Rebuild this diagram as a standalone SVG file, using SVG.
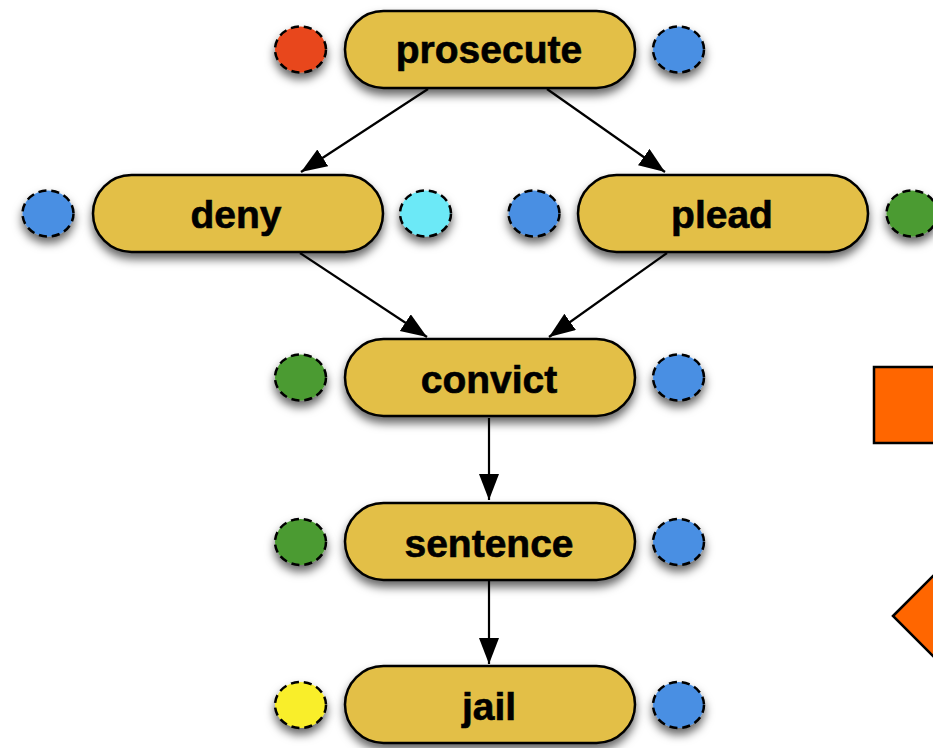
<svg xmlns="http://www.w3.org/2000/svg" width="933" height="748" viewBox="0 0 933 748">
  <defs>
    <filter id="shadow" x="-25%" y="-35%" width="150%" height="190%">
      <feDropShadow dx="0" dy="6" stdDeviation="5" flood-color="#000" flood-opacity="0.6"/>
    </filter>
    <marker id="arrow" markerUnits="userSpaceOnUse" markerWidth="28" markerHeight="22" refX="26" refY="10" orient="auto">
      <path d="M0,0 L26,10 L0,20 Z" fill="#000"/>
    </marker>
    <style>
      .pill { fill: #E3BF47; stroke: #000; stroke-width: 2.5; filter: url(#shadow); }
      .label { font-family: "Liberation Sans", Arial, sans-serif; font-weight: bold; font-size: 39px; fill: #000; text-anchor: middle; stroke: #000; stroke-width: 0.6; }
      .port { stroke: #000; stroke-width: 2.5; stroke-dasharray: 8 5; filter: url(#shadow); }
      .edge { stroke: #000; stroke-width: 2.2; fill: none; marker-end: url(#arrow); }
      .shape { fill: #FF6600; stroke: #000; stroke-width: 2.5; }
      .red { fill: #E8461A; }
      .blue { fill: #4A8FE3; }
      .cyan { fill: #6CE9F7; }
      .green { fill: #4B9B33; }
      .yellow { fill: #F9EE2B; }
    </style>
  </defs>

  <rect width="933" height="748" fill="#fff"/>

  <!-- connectors -->
  <g id="edges">
    <line class="edge" x1="428" y1="89" x2="301" y2="172"/>
    <line class="edge" x1="547" y1="89" x2="665" y2="172"/>
    <line class="edge" x1="300" y1="253" x2="427" y2="337"/>
    <line class="edge" x1="667" y1="253" x2="549" y2="337"/>
    <line class="edge" x1="489" y1="418" x2="489" y2="500"/>
    <line class="edge" x1="489" y1="580" x2="489" y2="664"/>
  </g>

  <g id="prosecute">
    <ellipse class="port red" cx="300.5" cy="49.5" rx="25.5" ry="23"/>
    <rect class="pill" x="345" y="11" width="290" height="77" rx="38.5"/>
    <ellipse class="port blue" cx="678.5" cy="49.5" rx="25.5" ry="23"/>
    <text class="label" x="489" y="63">prosecute</text>
  </g>

  <g id="deny">
    <ellipse class="port blue" cx="48" cy="213.5" rx="25.5" ry="23"/>
    <rect class="pill" x="93" y="175" width="290" height="77" rx="38.5"/>
    <ellipse class="port cyan" cx="425.5" cy="213.5" rx="25.5" ry="23"/>
    <text class="label" x="236" y="228">deny</text>
  </g>

  <g id="plead">
    <ellipse class="port blue" cx="534" cy="213.5" rx="25.5" ry="23"/>
    <rect class="pill" x="578" y="175" width="290" height="77" rx="38.5"/>
    <ellipse class="port green" cx="912" cy="213.5" rx="25.5" ry="23"/>
    <text class="label" x="722" y="228">plead</text>
  </g>

  <g id="convict">
    <ellipse class="port green" cx="300.5" cy="377.5" rx="25.5" ry="23"/>
    <rect class="pill" x="345" y="339" width="290" height="77" rx="38.5"/>
    <ellipse class="port blue" cx="678.5" cy="377.5" rx="25.5" ry="23"/>
    <text class="label" x="489" y="393">convict</text>
  </g>

  <g id="sentence">
    <ellipse class="port green" cx="300.5" cy="542" rx="25.5" ry="23"/>
    <rect class="pill" x="345" y="503" width="290" height="77" rx="38.5"/>
    <ellipse class="port blue" cx="678.5" cy="542" rx="25.5" ry="23"/>
    <text class="label" x="489" y="557">sentence</text>
  </g>

  <g id="jail">
    <ellipse class="port yellow" cx="300.5" cy="705" rx="25.5" ry="23"/>
    <rect class="pill" x="345" y="666" width="290" height="77" rx="38.5"/>
    <ellipse class="port blue" cx="678.5" cy="705" rx="25.5" ry="23"/>
    <text class="label" x="489" y="720">jail</text>
  </g>

  <g id="square">
    <rect class="shape" x="874" y="367" width="80" height="76"/>
  </g>

  <g id="diamond">
    <polygon class="shape" points="893,616 948,561 1003,616 948,671"/>
  </g>
</svg>
